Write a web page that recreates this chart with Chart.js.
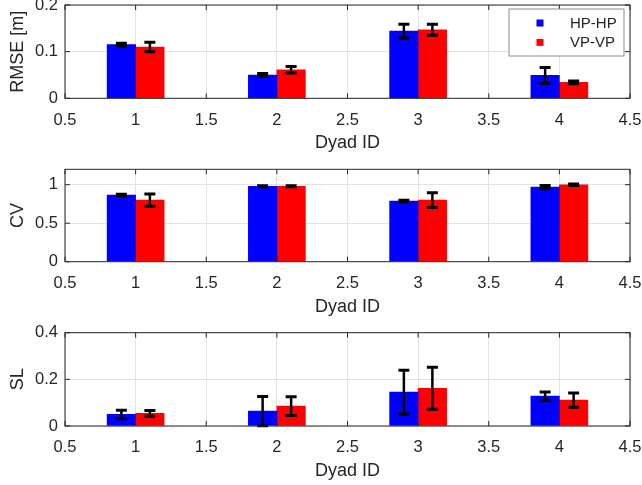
<!DOCTYPE html>
<html>
<head>
<meta charset="utf-8">
<script src="https://cdn.jsdelivr.net/npm/chart.js@4/dist/chart.umd.min.js"></script>
<style>
  html, body { margin: 0; padding: 0; background: #fff; }
  #wrap { position: relative; width: 642px; height: 485px; }
  canvas { position: absolute; left: 0; }
</style>
</head>
<body>
<div id="wrap">
  <canvas id="rmse" width="642" height="160" style="top:0px"></canvas>
  <canvas id="cv" width="642" height="160" style="top:160px"></canvas>
  <canvas id="sl" width="642" height="165" style="top:320px"></canvas>
</div>
<script>
const dyads = [1, 2, 3, 4];
const seriesNames = ['HP-HP', 'VP-VP'];
const xTicks = [0.5, 1, 1.5, 2, 2.5, 3, 3.5, 4, 4.5];

// RMSE [m]
const rmseHP = [0.115, 0.050, 0.144, 0.049];
const rmseHPErr = [0.003, 0.003, 0.015, 0.017];
const rmseVP = [0.110, 0.061, 0.147, 0.034];
const rmseVPErr = [0.010, 0.007, 0.012, 0.003];
const rmseTicks = [0, 0.1, 0.2];

// CV
const cvHP = [0.866, 0.980, 0.788, 0.969];
const cvHPErr = [0.010, 0.006, 0.010, 0.020];
const cvVP = [0.800, 0.980, 0.800, 0.999];
const cvVPErr = [0.080, 0.006, 0.095, 0.010];
const cvTicks = [0, 0.5, 1];

// SL
const slHP = [0.050, 0.064, 0.145, 0.128];
const slHPErr = [0.018, 0.063, 0.094, 0.018];
const slVP = [0.054, 0.085, 0.162, 0.111];
const slVPErr = [0.012, 0.040, 0.090, 0.031];
const slTicks = [0, 0.2, 0.4];

const FONT = "'Liberation Sans', Arial, Helvetica, sans-serif";
const TEXT = '#262626';
const COLORS = ['#0000ff', '#ff0000'];

// error bars, box with inward ticks, and the legend, drawn the MATLAB way
const matlabAxes = {
  id: 'matlab',
  afterDatasetsDraw(chart) {
    const ctx = chart.ctx;
    const ys = chart.scales.y;
    ctx.save();
    ctx.strokeStyle = '#000';
    chart.data.datasets.forEach((ds, i) => {
      const meta = chart.getDatasetMeta(i);
      meta.data.forEach((bar, j) => {
        const v = ds.data[j].y, e = ds.errors[j];
        const top = ys.getPixelForValue(v + e);
        const bot = ys.getPixelForValue(Math.max(v - e, 0));
        ctx.lineWidth = 2.5;
        ctx.beginPath();
        ctx.moveTo(bar.x, top);
        ctx.lineTo(bar.x, bot);
        ctx.stroke();
        ctx.lineWidth = 3;
        ctx.beginPath();
        ctx.moveTo(bar.x - 5.5, top);
        ctx.lineTo(bar.x + 5.5, top);
        ctx.moveTo(bar.x - 5.5, bot);
        ctx.lineTo(bar.x + 5.5, bot);
        ctx.stroke();
      });
    });
    ctx.restore();
  },
  afterDraw(chart, args, opts) {
    const ctx = chart.ctx;
    const a = chart.chartArea;
    const xs = chart.scales.x, ys = chart.scales.y;
    ctx.save();
    ctx.strokeStyle = TEXT;
    ctx.lineWidth = 1;
    ctx.strokeRect(a.left, a.top, a.right - a.left, a.bottom - a.top);
    ctx.beginPath();
    xs.ticks.forEach(t => {
      const px = xs.getPixelForValue(t.value);
      ctx.moveTo(px, a.bottom); ctx.lineTo(px, a.bottom - 5);
      ctx.moveTo(px, a.top); ctx.lineTo(px, a.top + 5);
    });
    ys.ticks.forEach(t => {
      const py = ys.getPixelForValue(t.value);
      ctx.moveTo(a.left, py); ctx.lineTo(a.left + 5, py);
      ctx.moveTo(a.right, py); ctx.lineTo(a.right - 5, py);
    });
    ctx.stroke();

    if (opts.legend) {
      const w = 115, h = 47;
      const lx = a.right - 6 - w, ly = a.top + 4;
      ctx.fillStyle = '#fff';
      ctx.fillRect(lx, ly, w, h);
      ctx.strokeStyle = '#8c8c8c';
      ctx.strokeRect(lx, ly, w, h);
      ctx.font = '15px ' + FONT;
      ctx.textBaseline = 'middle';
      chart.data.datasets.forEach((ds, i) => {
        const cy = ly + 14 + i * 19.4;
        ctx.fillStyle = ds.backgroundColor;
        ctx.fillRect(lx + 27.5, cy - 3.5, 7, 7);
        ctx.fillStyle = TEXT;
        ctx.fillText(ds.label, lx + 61, cy + 0.5);
      });
    }
    ctx.restore();
  }
};

function makeChart(id, yLabel, hp, hpErr, vp, vpErr, yMax, yTicks, pad, legend) {
  return new Chart(document.getElementById(id), {
    type: 'bar',
    data: {
      datasets: [
        { label: seriesNames[0], data: dyads.map((d, i) => ({ x: d, y: hp[i] })), errors: hpErr,
          backgroundColor: COLORS[0], borderWidth: 0 },
        { label: seriesNames[1], data: dyads.map((d, i) => ({ x: d, y: vp[i] })), errors: vpErr,
          backgroundColor: COLORS[1], borderWidth: 0 }
      ]
    },
    options: {
      responsive: false,
      animation: false,
      devicePixelRatio: 1,
      barThickness: 28.5,
      layout: { padding: pad },
      plugins: {
        legend: { display: false },
        tooltip: { enabled: false },
        matlab: { legend: legend }
      },
      scales: {
        x: {
          type: 'linear',
          offset: false,
          min: 0.5,
          max: 4.5,
          afterBuildTicks: s => { s.ticks = xTicks.map(v => ({ value: v })); },
          afterFit: s => { s.height = 56; s.paddingLeft = 0; s.paddingRight = 0; },
          ticks: { font: { family: FONT, size: 16.5 }, color: TEXT, padding: 12, maxRotation: 0, autoSkip: false,
            callback: v => String(v) },
          grid: { color: '#e3e3e3', drawTicks: false, offset: false },
          border: { display: false },
          title: { display: true, text: 'Dyad ID', font: { family: FONT, size: 18 }, color: TEXT, padding: 0 }
        },
        y: {
          min: 0,
          max: yMax,
          afterBuildTicks: s => { s.ticks = yTicks.map(v => ({ value: v })); },
          afterFit: s => { s.width = 65; s.paddingTop = 0; s.paddingBottom = 0; },
          ticks: { font: { family: FONT, size: 16.5 }, color: TEXT, padding: 7, callback: v => String(v) },
          grid: { color: '#e3e3e3', drawTicks: false },
          border: { display: false },
          title: { display: true, text: yLabel, font: { family: FONT, size: 18 }, color: TEXT, padding: { top: 7.5, bottom: 0 } }
        }
      }
    },
    plugins: [matlabAxes]
  });
}

makeChart('rmse', 'RMSE [m]', rmseHP, rmseHPErr, rmseVP, rmseVPErr, 0.2, rmseTicks,
  { top: 5, right: 12, bottom: 5.7, left: 0 }, true);
makeChart('cv', 'CV', cvHP, cvHPErr, cvVP, cvVPErr, 1.2, cvTicks,
  { top: 9.3, right: 12, bottom: 2.3, left: 0 }, false);
makeChart('sl', 'SL', slHP, slHPErr, slVP, slVPErr, 0.4, slTicks,
  { top: 12.7, right: 12, bottom: 3, left: 0 }, false);
</script>
</body>
</html>
